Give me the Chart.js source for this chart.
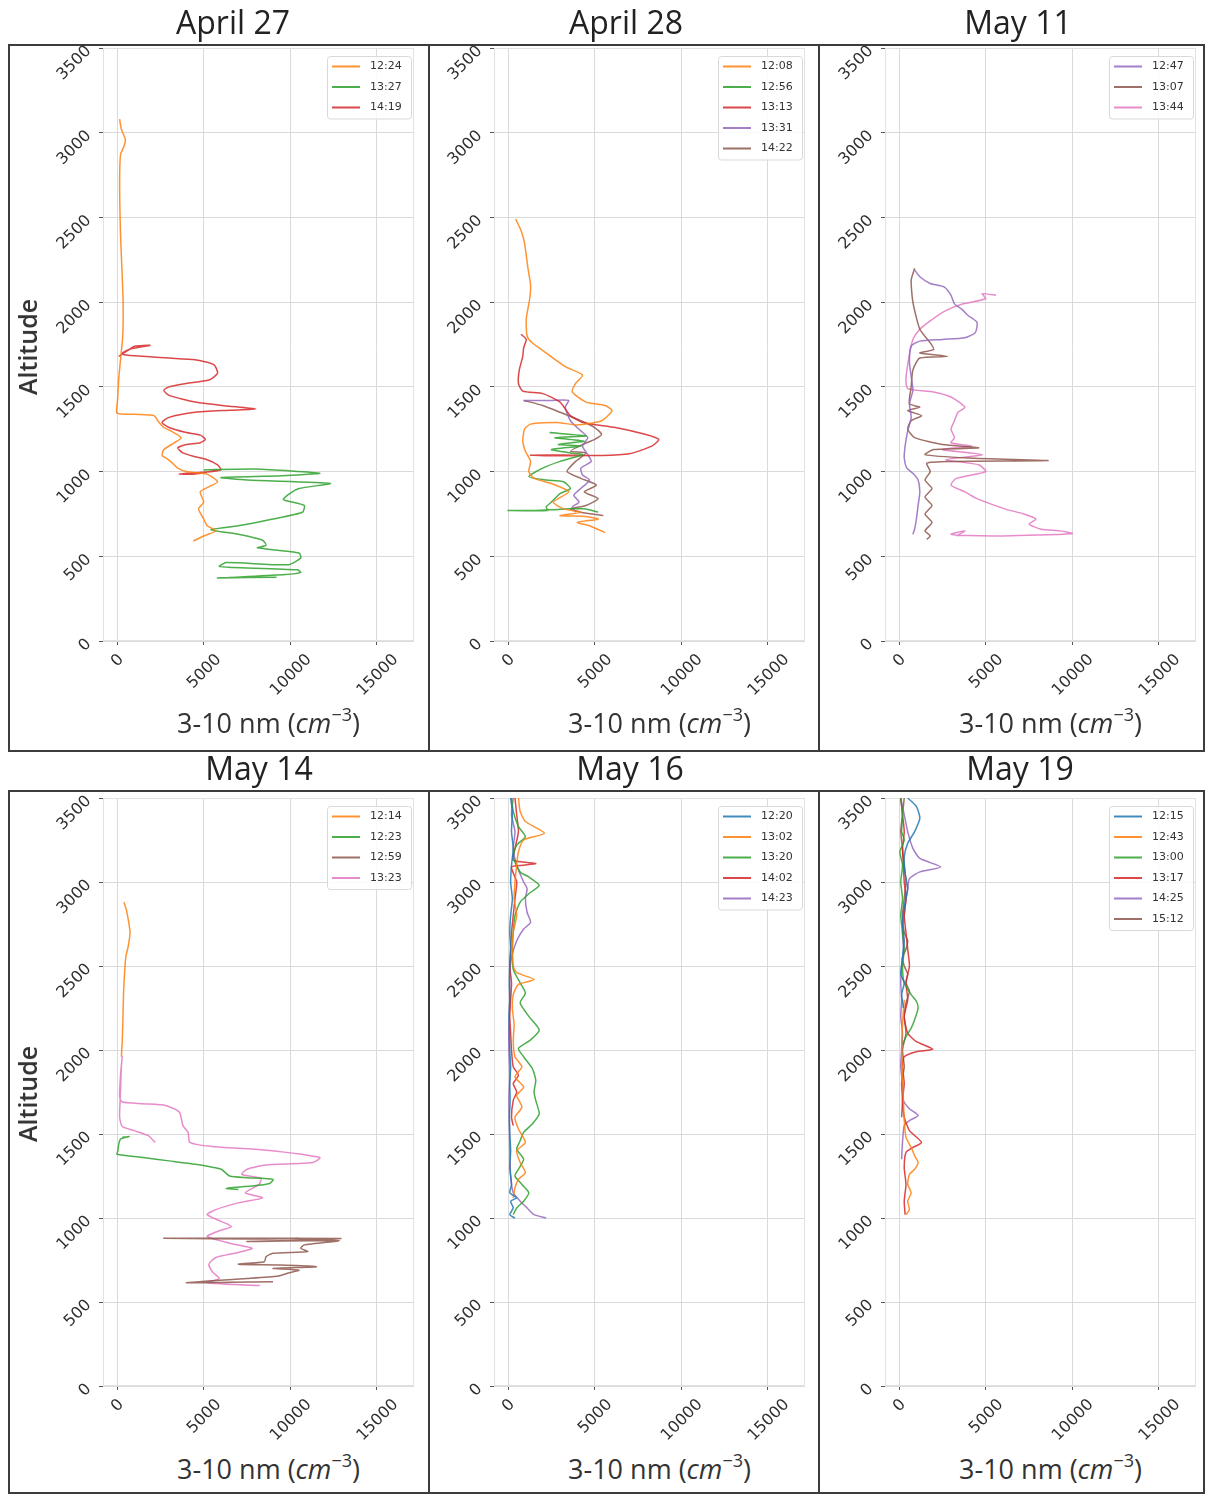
<!DOCTYPE html>
<html>
<head>
<meta charset="utf-8">
<script src="https://cdn.jsdelivr.net/npm/chart.js@4.4.0/dist/chart.umd.min.js"></script>
<style>
  html, body { margin: 0; padding: 0; background: #fff; }
  #fig { position: relative; width: 1207px; height: 1496px; overflow: hidden; font-family: "Open Sans", "Noto Sans", sans-serif; color: #333; }
  .frame { position: absolute; box-sizing: border-box; border: 2px solid #3c3c3c; }
  .frame.nol { border-left: none; }
  canvas { position: absolute; }
  .title { position: absolute; font-size: 32px; line-height: 36px; white-space: nowrap; transform: translateX(-50%); color: #222; }
  .xlab { position: absolute; font-size: 27px; line-height: 32px; white-space: nowrap; transform: translateX(-50%); color: #333; }
  .xlab sup { font-size: 18px; line-height: 0; vertical-align: 12px; }
  .ylab { position: absolute; font-size: 25px; font-weight: 600; white-space: nowrap; transform: translate(-50%, -50%) rotate(-90deg); color: #333; }
</style>
</head>
<body>
<div id="fig"></div>
<script>
// ---- axes ----
const X_MIN = -810, X_MAX = 17135;
const xTickValues = [0, 5000, 10000, 15000];
const Y_MIN = 0, Y_MAX = 3500, Y_STEP = 500;

// ---- April 27 ----  [concentration, altitude]
const apr27Times = ['12:24', '13:27', '14:19'];
const apr27_1224 = [[150,3080],[250,3020],[480,2960],[400,2920],[200,2870],[150,2700],[200,2400],[280,2200],[350,2000],[330,1800],[220,1680],[100,1550],[30,1420],[0,1345],[1000,1338],[2150,1330],[2350,1300],[2700,1260],[3100,1240],[3700,1200],[3300,1170],[2700,1130],[2600,1095],[2900,1075],[3200,1050],[3500,1020],[4000,1000],[5200,985],[5800,940],[5400,915],[4800,880],[5000,820],[4700,780],[5000,720],[5200,680],[5700,650],[5000,620],[4400,590]];
const apr27_1327 = [[5000,1010],[8000,1015],[11700,990],[9500,975],[6000,965],[7500,950],[12300,930],[10500,900],[9900,865],[9600,835],[10800,800],[10700,760],[9000,720],[7000,680],[5400,657],[7000,630],[8400,595],[8600,565],[8100,550],[10500,520],[10600,490],[9900,450],[6300,463],[5900,440],[6700,434],[10400,420],[10600,405],[9700,392],[7100,378],[5800,372],[9200,377]];
const apr27_1419 = [[100,1680],[700,1720],[1000,1740],[1900,1745],[800,1725],[300,1700],[400,1690],[1500,1680],[3000,1670],[4500,1660],[5600,1630],[5800,1580],[5300,1540],[4000,1520],[3000,1500],[2700,1480],[3000,1450],[4500,1410],[6500,1385],[8000,1370],[6500,1362],[4500,1350],[3000,1320],[2600,1290],[3000,1260],[4000,1230],[4800,1215],[5100,1190],[4800,1170],[4000,1160],[3500,1140],[3800,1110],[4400,1090],[5200,1070],[5800,1040],[6000,1010],[5500,1000],[4000,990],[3600,985],[4500,985],[5800,1010]];

// ---- April 28 ----
const apr28Times = ['12:08', '12:56', '13:13', '13:31', '14:22'];
const apr28_1208 = [[440,2490],[760,2420],[950,2350],[1150,2200],[1300,2100],[1250,2020],[1050,1900],[1100,1800],[1400,1760],[2200,1700],[3300,1620],[4300,1570],[3900,1520],[3700,1470],[4500,1410],[5600,1390],[6000,1360],[5400,1300],[4000,1275],[2800,1290],[1300,1280],[950,1250],[850,1180],[1000,1120],[1300,1060],[1200,1000],[1500,960],[2500,930],[3500,880],[2600,820],[3200,780],[4200,760],[3000,740],[4500,735],[5200,720],[4000,700],[4700,680],[5600,640]];
const apr28_1256 = [[2400,1230],[4500,1210],[2700,1200],[4400,1180],[2900,1160],[4200,1150],[2500,1130],[3600,1110],[4300,1100],[3000,1060],[2000,1020],[1200,970],[2200,950],[3200,940],[3600,900],[3000,870],[2500,820],[2200,790],[2300,770],[0,770],[1600,770],[2600,775],[3500,780],[4400,780],[5200,760]];
const apr28_1313 = [[750,1810],[1050,1780],[900,1730],[850,1680],[650,1600],[600,1520],[850,1475],[2000,1460],[3000,1410],[3600,1330],[4300,1290],[6200,1260],[7900,1220],[8700,1190],[8300,1150],[7000,1105],[5400,1095],[3200,1098],[1300,1097],[2600,1093],[4800,1095]];
const apr28_1331 = [[900,1420],[2500,1420],[3500,1420],[3300,1380],[3600,1300],[4200,1240],[4600,1200],[4300,1150],[4600,1100],[4800,1060],[4200,1020],[4300,980],[4700,950],[4200,900],[3800,860],[4100,820],[3700,790],[3900,760]];
const apr28_1422 = [[900,1420],[2000,1390],[3000,1350],[4200,1300],[5000,1260],[5400,1220],[5000,1190],[4300,1160],[3600,1120],[4500,1110],[3900,1060],[3400,1000],[4200,960],[5100,920],[4400,880],[5200,840],[4500,800],[3600,780],[4200,760],[5500,740]];

// ---- May 11 ----
const may11Times = ['12:47', '13:07', '13:44'];
const may11_1247 = [[900,2190],[1200,2150],[1800,2110],[2600,2090],[3000,2040],[3200,1990],[3600,1960],[4000,1920],[4500,1880],[4400,1820],[3800,1790],[2500,1780],[1200,1770],[700,1740],[600,1650],[700,1560],[800,1480],[600,1400],[700,1320],[500,1240],[350,1150],[300,1080],[450,1020],[800,990],[1100,950],[1200,880],[1100,800],[1000,720],[900,660],[800,630]];
const may11_1307 = [[900,2200],[700,2130],[800,2000],[1200,1840],[1800,1760],[2000,1720],[1200,1700],[2800,1680],[1200,1670],[800,1600],[700,1500],[600,1400],[1200,1380],[500,1360],[1300,1330],[700,1300],[500,1250],[900,1200],[2500,1160],[4600,1140],[2000,1130],[1500,1100],[4000,1080],[8600,1065],[3000,1060],[1600,1050],[1800,1000],[1500,950],[1900,900],[1500,850],[1900,800],[1500,750],[1900,700],[1500,650],[1800,620],[1600,600]];
const may11_1344 = [[5600,2040],[4800,2050],[5000,2020],[3700,1990],[2700,1950],[1800,1890],[1200,1840],[800,1780],[600,1690],[400,1550],[500,1490],[2000,1470],[3000,1440],[3800,1380],[3400,1350],[3200,1300],[3000,1250],[3200,1200],[3000,1170],[4200,1150],[2500,1130],[4800,1100],[2700,1070],[4600,1040],[5000,1000],[3300,960],[3000,920],[3800,880],[4500,840],[6100,780],[7200,750],[7900,720],[7500,690],[8200,660],[9300,650],[10000,635],[8000,625],[6000,620],[4000,622],[3000,630],[3800,650],[3300,620]];

// ---- May 14 ----
const may14Times = ['12:14', '12:23', '12:59', '13:23'];
const may14_1214 = [[400,2880],[550,2830],[750,2700],[650,2620],[500,2550],[380,2350],[340,2190],[300,2050],[250,1960]];
const may14_1223 = [[300,1480],[700,1485],[200,1470],[100,1440],[50,1400],[0,1380],[1500,1360],[3000,1340],[4500,1320],[6000,1290],[6500,1250],[7500,1240],[9000,1230],[8800,1205],[7800,1190],[6500,1180],[6300,1175],[7000,1170]];
const may14_1259 = [[10500,880],[8000,875],[2700,880],[6000,880],[12900,878],[11000,870],[7500,860],[12800,865],[10800,840],[10600,820],[11000,800],[9000,790],[8600,770],[8500,740],[7000,725],[9500,720],[11500,710],[9000,700],[10500,690],[9800,670],[9300,655],[7500,640],[4000,615],[6500,618],[9000,620]];
const may14_1323 = [[2200,1450],[1800,1490],[1000,1520],[300,1545],[150,1600],[200,1750],[250,1900],[300,1960],[200,1850],[150,1720],[300,1690],[1500,1680],[2800,1670],[3600,1630],[3800,1550],[4100,1510],[4200,1450],[5500,1425],[8500,1405],[11700,1360],[11300,1330],[8600,1315],[7500,1290],[7200,1260],[8300,1235],[8200,1200],[7400,1150],[8400,1120],[7000,1090],[5700,1050],[5200,1020],[6000,980],[6600,950],[5800,920],[5200,890],[6500,850],[7800,820],[7000,795],[5700,765],[5300,725],[5500,680],[5900,640],[5200,615],[8200,598],[6500,605]];

// ---- May 16 ----
const may16Times = ['12:20', '13:02', '13:20', '14:02', '14:23'];
const may16_1220 = [[150,3500],[250,3420],[200,3300],[300,3200],[200,3100],[150,3000],[250,2900],[150,2800],[100,2700],[150,2600],[100,2500],[80,2400],[100,2300],[60,2200],[80,2100],[100,2000],[150,1900],[100,1800],[120,1700],[80,1600],[100,1500],[150,1400],[100,1300],[200,1200],[100,1150],[500,1120],[150,1100],[300,1060],[100,1020],[400,1000]];
const may16_1302 = [[600,3500],[700,3420],[1000,3360],[2100,3290],[900,3250],[600,3180],[500,3100],[400,3000],[350,2900],[500,2800],[300,2700],[250,2600],[300,2500],[500,2460],[1500,2420],[600,2390],[300,2330],[250,2250],[350,2150],[300,2050],[400,1960],[800,1900],[400,1840],[900,1780],[500,1730],[800,1660],[400,1600],[600,1530],[1000,1450],[500,1400],[700,1330],[1000,1270],[600,1230],[400,1180],[300,1120]];
const may16_1320 = [[200,3500],[300,3420],[600,3330],[1000,3270],[500,3220],[300,3150],[700,3060],[1200,3030],[1800,2980],[1200,2930],[700,2880],[400,2800],[300,2700],[250,2600],[300,2480],[700,2400],[1000,2340],[700,2280],[1200,2200],[1800,2120],[1300,2060],[600,2010],[900,1960],[1400,1890],[1600,1820],[1500,1750],[1600,1700],[1800,1620],[1400,1560],[900,1510],[700,1460],[500,1410],[900,1350],[600,1290],[400,1250],[800,1200],[1200,1150],[900,1100],[500,1060],[300,1020]];
const may16_1402 = [[400,3500],[500,3400],[600,3300],[400,3200],[300,3130],[1600,3110],[900,3100],[200,3090],[500,3000],[400,2900],[300,2800],[200,2700],[150,2600],[100,2500],[200,2400],[150,2300],[100,2200],[150,2100],[200,2000],[300,1900],[600,1850],[300,1800],[500,1750],[300,1700],[200,1600],[300,1550]];
const may16_1423 = [[300,3500],[200,3400],[400,3300],[300,3200],[500,3100],[900,3000],[1100,2960],[1000,2900],[1100,2820],[1300,2760],[900,2720],[500,2650],[200,2550],[100,2450],[100,2300],[50,2150],[50,2000],[100,1850],[50,1700],[80,1550],[100,1400],[150,1250],[300,1150],[700,1100],[1100,1060],[1500,1020],[2200,1000]];

// ---- May 19 ----
const may19Times = ['12:15', '12:43', '13:00', '13:17', '14:25', '15:12'];
const may19_1215 = [[500,3500],[1000,3450],[1200,3380],[900,3300],[500,3230],[300,3150],[350,3050],[500,2960],[300,2850],[200,2750],[300,2650],[200,2550],[100,2450],[300,2400],[150,2330],[250,2250]];
const may19_1243 = [[300,2300],[200,2150],[150,2000],[200,1850],[250,1700],[300,1580],[400,1480],[700,1420],[900,1370],[1100,1330],[900,1290],[600,1260],[500,1200],[700,1150],[500,1100],[600,1050],[400,1020]];
const may19_1300 = [[100,3500],[200,3400],[150,3300],[300,3250],[50,3180],[200,3100],[100,3000],[200,2900],[100,2800],[200,2700],[300,2600],[200,2500],[300,2400],[700,2330],[1000,2290],[1100,2250],[900,2180],[700,2130],[400,2080],[200,2030]];
const may19_1317 = [[100,3500],[200,3400],[300,3300],[200,3200],[250,3100],[300,3000],[400,2900],[300,2800],[400,2700],[500,2600],[600,2500],[400,2400],[500,2300],[300,2200],[500,2100],[1000,2050],[1950,2005],[1000,1990],[300,1960],[200,1900],[300,1800],[200,1700],[300,1600],[600,1520],[1300,1450],[800,1420],[400,1390],[300,1300],[400,1200],[300,1100],[350,1020]];
const may19_1425 = [[100,3500],[300,3400],[500,3300],[800,3200],[1200,3140],[2400,3090],[1200,3060],[600,3020],[500,2960],[400,2900],[300,2800],[200,2700],[250,2600],[150,2500],[100,2400],[150,2300],[100,2200],[200,2100],[150,2000],[100,1900],[200,1800],[250,1700],[600,1650],[1100,1610],[600,1580],[300,1550],[200,1450],[150,1350]];
const may19_1512 = [[300,3500],[200,3400],[100,3300],[200,3200],[300,3100],[400,3000],[300,2900],[200,2800],[300,2700],[500,2650],[400,2600],[200,2550],[300,2500],[500,2450],[400,2400],[600,2350],[400,2280],[300,2200],[400,2100],[200,2000],[300,1900],[150,1800],[200,1700],[150,1600]];

// matplotlib tab10 colours
const tab = { blue: '#1f77b4', orange: '#ff7f0e', green: '#2ca02c', red: '#d62728', purple: '#9467bd', brown: '#8c564b', pink: '#e377c2' };

const panels = [
    { title: 'April 27', times: apr27Times, series: [apr27_1224, apr27_1327, apr27_1419], colors: ['orange', 'green', 'red'] },
    { title: 'April 28', times: apr28Times, series: [apr28_1208, apr28_1256, apr28_1313, apr28_1331, apr28_1422], colors: ['orange', 'green', 'red', 'purple', 'brown'] },
    { title: 'May 11', times: may11Times, series: [may11_1247, may11_1307, may11_1344], colors: ['purple', 'brown', 'pink'] },
    { title: 'May 14', times: may14Times, series: [may14_1214, may14_1223, may14_1259, may14_1323], colors: ['orange', 'green', 'brown', 'pink'] },
    { title: 'May 16', times: may16Times, series: [may16_1220, may16_1302, may16_1320, may16_1402, may16_1423], colors: ['blue', 'orange', 'green', 'red', 'purple'] },
    { title: 'May 19', times: may19Times, series: [may19_1215, may19_1243, may19_1300, may19_1317, may19_1425, may19_1512], colors: ['blue', 'orange', 'green', 'red', 'purple', 'brown'] }
];

// ---- layout (page pixels) ----
const colFrames = [[8, 430], [430, 820], [820, 1205]];
const rowFrames = [[44, 752], [790, 1494]];
const colAreas = [[103, 414], [494, 805], [885, 1196]];
const rowAreas = [[48, 641], [798, 1386]];
const titleCenters = [233, 626, 1018, 259, 630, 1020];
const titleTops = [4, 750];
const xlabTops = [707, 1453];
const altitudeCenters = [347, 1094];

const TICK_FONT_SIZE = 16;
const TICK_FONT = TICK_FONT_SIZE + 'px "DejaVu Sans", sans-serif';
const Y_AXIS_W = 60, X_AXIS_H = 48;
const X_LABEL_GAP = 11, Y_LABEL_GAP = 15;

// light axes frame (matplotlib spines)
const axesFrame = {
    id: 'axesFrame',
    beforeDatasetsDraw(chart) {
        const { ctx, chartArea: a } = chart;
        ctx.save();
        ctx.strokeStyle = '#e2e2e2';
        ctx.lineWidth = 1;
        ctx.strokeRect(a.left + 0.5, a.top + 0.5, a.width - 1, a.height - 1);
        ctx.restore();
    }
};

// 45 degree tick labels: x labels centred under the tick, y labels ending at the tick
const rotatedTicks = {
    id: 'rotatedTicks',
    afterDraw(chart) {
        const { ctx, chartArea: a, scales } = chart;
        const k = Math.SQRT1_2;
        ctx.save();
        ctx.font = TICK_FONT;
        ctx.fillStyle = '#2f2f2f';
        ctx.textBaseline = 'middle';
        const put = (s, cx, cy, align) => {
            ctx.save();
            ctx.translate(cx, cy);
            ctx.rotate(-Math.PI / 4);
            ctx.textAlign = align;
            ctx.fillText(s, 0, 1);
            ctx.restore();
        };
        scales.x.ticks.forEach(t => {
            const s = String(t.value);
            const half = (ctx.measureText(s).width + TICK_FONT_SIZE * 0.8) * k / 2;
            put(s, scales.x.getPixelForValue(t.value), a.bottom + X_LABEL_GAP + half, 'center');
        });
        scales.y.ticks.forEach(t => {
            put(String(t.value), a.left - Y_LABEL_GAP, scales.y.getPixelForValue(t.value), 'right');
        });
        ctx.restore();
    }
};

// legend drawn inside the axes, upper right
const insideLegend = {
    id: 'insideLegend',
    afterDatasetsDraw(chart) {
        const { ctx, chartArea: a } = chart;
        const sets = chart.data.datasets;
        const rowH = 20.5, w = 84, h = sets.length * rowH + 1;
        const x0 = a.right - 3 - w, y0 = a.top + 8;
        ctx.save();
        ctx.beginPath();
        ctx.roundRect(x0 + 0.5, y0 + 0.5, w, h, 3);
        ctx.fillStyle = 'rgba(255,255,255,0.85)';
        ctx.fill();
        ctx.strokeStyle = '#d9d9d9';
        ctx.lineWidth = 1;
        ctx.stroke();
        ctx.font = '11px "DejaVu Sans", sans-serif';
        ctx.textBaseline = 'middle';
        sets.forEach((ds, i) => {
            const cy = y0 + 10.5 + i * rowH;
            ctx.strokeStyle = ds.borderColor;
            ctx.lineWidth = 2;
            ctx.beginPath();
            ctx.moveTo(x0 + 5, cy);
            ctx.lineTo(x0 + 33, cy);
            ctx.stroke();
            ctx.fillStyle = '#333';
            ctx.fillText(ds.label, x0 + 43, cy);
        });
        ctx.restore();
    }
};

const fig = document.getElementById('fig');

panels.forEach((p, i) => {
    const col = i % 3, row = Math.floor(i / 3);
    const [fl, fr] = colFrames[col];
    const [ft, fb] = rowFrames[row];
    const [al, ar] = colAreas[col];
    const [at, ab] = rowAreas[row];

    // frame
    const frame = document.createElement('div');
    frame.className = 'frame' + (col > 0 ? ' nol' : '');
    Object.assign(frame.style, { left: fl + 'px', top: ft + 'px', width: (fr - fl) + 'px', height: (fb - ft) + 'px' });
    fig.appendChild(frame);

    // canvas
    const cl = fl + (col === 0 ? 2 : 0), cr = fr - 2;
    const ct = at - 32, cb = ab + 62;
    const canvas = document.createElement('canvas');
    canvas.width = cr - cl;
    canvas.height = cb - ct;
    Object.assign(canvas.style, { left: cl + 'px', top: ct + 'px', width: (cr - cl) + 'px', height: (cb - ct) + 'px' });
    fig.appendChild(canvas);

    // texts
    const t = document.createElement('div');
    t.className = 'title';
    t.textContent = p.title;
    Object.assign(t.style, { left: titleCenters[i] + 'px', top: titleTops[row] + 'px' });
    fig.appendChild(t);

    const xl = document.createElement('div');
    xl.className = 'xlab';
    xl.innerHTML = '3-10 nm (<i>cm</i><sup>\u22123</sup>)';
    Object.assign(xl.style, { left: ((al + ar) / 2 + 10) + 'px', top: xlabTops[row] + 'px' });
    fig.appendChild(xl);

    if (col === 0) {
        const yl = document.createElement('div');
        yl.className = 'ylab';
        yl.textContent = 'Altitude';
        Object.assign(yl.style, { left: '27px', top: altitudeCenters[row] + 'px' });
        fig.appendChild(yl);
    }

    new Chart(canvas, {
        type: 'scatter',
        data: {
            datasets: p.series.map((pts, k) => ({
                label: p.times[k],
                data: pts.map(d => ({ x: d[0], y: d[1] })),
                showLine: true,
                borderColor: tab[p.colors[k]] + 'd8',
                borderWidth: 1.5,
                pointRadius: 0,
                tension: 0.2,
                fill: false
            }))
        },
        options: {
            responsive: false,
            animation: false,
            events: [],
            layout: {
                padding: { left: al - cl - Y_AXIS_W, right: cr - ar, top: at - ct, bottom: cb - ab - X_AXIS_H }
            },
            plugins: { legend: { display: false }, tooltip: { enabled: false } },
            scales: {
                x: {
                    type: 'linear',
                    min: X_MIN,
                    max: X_MAX,
                    afterBuildTicks: axis => { axis.ticks = xTickValues.map(v => ({ value: v })); },
                    afterFit: axis => { axis.height = X_AXIS_H; },
                    grid: { color: '#dadada', lineWidth: 1, tickColor: '#555', tickLength: 4 },
                    border: { display: false },
                    ticks: { display: false }
                },
                y: {
                    type: 'linear',
                    min: Y_MIN,
                    max: Y_MAX,
                    afterFit: axis => { axis.width = Y_AXIS_W; },
                    grid: { color: '#dadada', lineWidth: 1, tickColor: '#555', tickLength: 4 },
                    border: { display: false },
                    ticks: { display: false, stepSize: Y_STEP }
                }
            }
        },
        plugins: [axesFrame, insideLegend, rotatedTicks]
    });
});
</script>
</body>
</html>
